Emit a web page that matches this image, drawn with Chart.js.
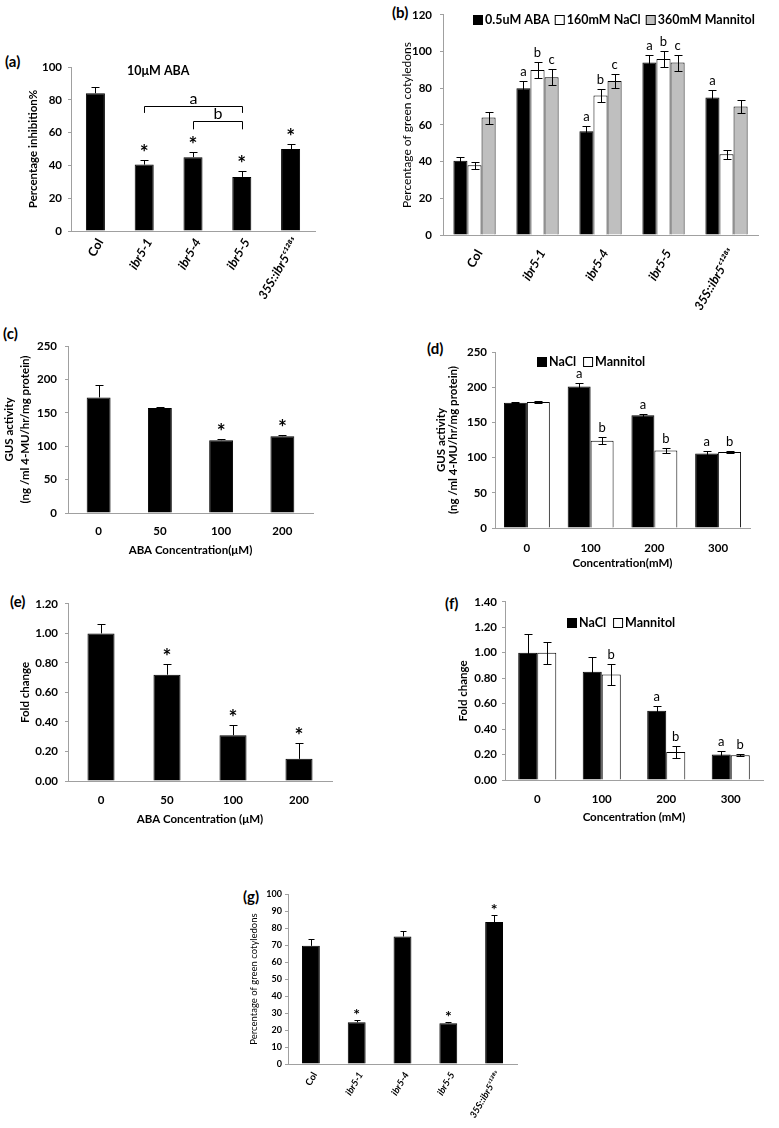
<!DOCTYPE html>
<html>
<head>
<meta charset="utf-8">
<script src="https://cdn.jsdelivr.net/npm/chart.js@4.4.1/dist/chart.umd.min.js"></script>
<style>
  body { margin: 0; width: 779px; height: 1128px; position: relative; overflow: hidden; background: #fff; font-family: Lato, "Open Sans", sans-serif; }
  .tag { position: absolute; font: bold 15px Lato, sans-serif; line-height: 18px; color: #000; }
</style>
</head>
<body>
<div class="tag" style="left:5px;top:52px">(a)</div>
<div class="tag" style="left:392px;top:3px">(b)</div>
<div class="tag" style="left:3px;top:324px">(c)</div>
<div class="tag" style="left:427px;top:339px">(d)</div>
<div class="tag" style="left:10px;top:592px">(e)</div>
<div class="tag" style="left:445px;top:594px">(f)</div>
<div class="tag" style="left:243px;top:887px">(g)</div>
<script>
// genotypes (a, b, g)
const genotypes = ['Col', 'ibr5-1', 'ibr5-4', 'ibr5-5', '35S::ibr5ᶜ¹²⁸ˢ'];

// (a) 10uM ABA, percentage inhibition
const inhibition = [84, 40.5, 45, 33, 50];
const inhibitionErr = [4, 2.5, 3, 3.5, 3];

// (b) percentage of green cotyledons
const seriesB = ['0.5uM ABA', '160mM NaCl', '360mM Mannitol'];
const greenABA = [40.5, 80, 56.5, 94, 75];
const greenABAErr = [2, 4, 2.7, 4.3, 3.8];
const greenNaCl = [38, 90, 76, 96, 44];
const greenNaClErr = [2, 4.4, 3.7, 4.3, 2.3];
const greenMannitol = [64, 86, 84, 94, 70];
const greenMannitolErr = [3.3, 4.3, 4, 4.4, 3.6];

// (c) GUS activity vs ABA
const abaConc = ['0', '50', '100', '200'];
const gusABA = [173, 157, 109, 115];
const gusABAErr = [19, 1.5, 1.5, 2];

// (d) GUS activity vs NaCl / Mannitol
const saltConc = ['0', '100', '200', '300'];
const osmoSeries = ['NaCl', 'Mannitol'];
const gusNaCl = [178, 201, 160, 106];
const gusNaClErr = [0.5, 5, 2.5, 3.5];
const gusMannitol = [179, 124, 110, 108];
const gusMannitolErr = [1, 5, 3, 1.5];

// (e) fold change vs ABA
const foldABA = [1.00, 0.72, 0.31, 0.15];
const foldABAErr = [0.065, 0.07, 0.07, 0.11];

// (f) fold change vs NaCl / Mannitol
const foldNaCl = [1.00, 0.85, 0.545, 0.20];
const foldNaClErr = [0.15, 0.12, 0.04, 0.03];
const foldMannitol = [1.00, 0.83, 0.22, 0.195];
const foldMannitolErr = [0.085, 0.085, 0.045, 0.01];

// (g) percentage of green cotyledons
const greenG = [69.5, 24.5, 75, 24, 83.5];
const greenGErr = [3.8, 1.3, 3.5, 1, 4];

const AXIS = '#a0a0a0';
Chart.defaults.font.family = 'Lato, "Open Sans", sans-serif';
Chart.defaults.color = '#000';

// error bars, letters, brackets, legend
const extras = {
  id: 'extras',
  afterDatasetsDraw(chart, args, o) {
    const ctx = chart.ctx, ys = chart.scales.y, xs = chart.scales.x;
    const cap = o.cap || 4;
    ctx.save();
    ctx.strokeStyle = '#000';
    ctx.lineWidth = 1;
    chart.data.datasets.forEach((ds, di) => {
      chart.getDatasetMeta(di).data.forEach((bar, i) => {
        const v = ds.data[i], e = ds.errors[i];
        const x = Math.round(bar.x) + 0.5;
        const top = Math.round(ys.getPixelForValue(v + e)) + 0.5;
        const bot = o.both ? Math.round(ys.getPixelForValue(v - e)) + 0.5 : bar.y;
        ctx.beginPath();
        ctx.moveTo(x, top); ctx.lineTo(x, bot);
        ctx.moveTo(x - cap, top); ctx.lineTo(x + cap, top);
        if (o.both) { ctx.moveTo(x - cap, bot); ctx.lineTo(x + cap, bot); }
        ctx.stroke();
      });
    });

    ctx.fillStyle = '#000';
    ctx.textAlign = 'center';
    ctx.textBaseline = 'alphabetic';
    (o.notes || []).forEach(([di, i, t]) => {
      const ds = chart.data.datasets[di];
      const bar = chart.getDatasetMeta(di).data[i];
      const top = ys.getPixelForValue(ds.data[i] + ds.errors[i]);
      const star = t === '*';
      ctx.font = star ? o.starFont : o.letterFont;
      ctx.fillText(t, bar.x, top - (star ? o.starGap : o.letterGap));
    });

    (o.brackets || []).forEach(b => {
      const x1 = Math.round(xs.getPixelForValue(b.from)) + 0.5;
      const x2 = Math.round(xs.getPixelForValue(b.to)) + 0.5;
      const yl = Math.round(ys.getPixelForValue(b.level)) + 0.5;
      const yd = ys.getPixelForValue(b.level - b.drop);
      ctx.beginPath();
      ctx.moveTo(x1, yd); ctx.lineTo(x1, yl); ctx.lineTo(x2, yl); ctx.lineTo(x2, yd);
      ctx.stroke();
      ctx.font = o.bracketFont;
      ctx.fillText(b.label, (x1 + x2) / 2, yl - 3);
    });

    if (o.caption) {
      ctx.font = o.caption.font;
      ctx.textAlign = 'left';
      ctx.textBaseline = 'middle';
      ctx.fillText(o.caption.text, o.caption.x, o.caption.y);
    }

    if (o.legend) {
      let x = o.legend.x;
      const y = o.legend.y;
      ctx.font = o.legend.font;
      ctx.textAlign = 'left';
      ctx.textBaseline = 'middle';
      chart.data.datasets.forEach(ds => {
        ctx.fillStyle = ds.backgroundColor;
        ctx.fillRect(x + 0.5, Math.round(y - 5) + 0.5, 9, 9);
        ctx.strokeRect(x + 0.5, Math.round(y - 5) + 0.5, 9, 9);
        x += 12;
        ctx.fillStyle = '#000';
        ctx.fillText(ds.label, x, y);
        x += ctx.measureText(ds.label).width + o.legend.gap;
      });
    }
    ctx.restore();
  }
};

function bars(label, data, errors, color) {
  return { label, data, errors, backgroundColor: color, borderColor: '#000', borderWidth: 1 };
}

function panel(s) {
  const c = document.createElement('canvas');
  const b = s.box, a = s.area;
  c.width = b.w; c.height = b.h;
  c.style.cssText = `position:absolute;left:${b.l}px;top:${b.t}px;width:${b.w}px;height:${b.h}px`;
  document.body.appendChild(c);
  const yW = a.l - b.l, xH = b.t + b.h - a.b;
  const rot = s.rotate ? 60 : 0;
  return new Chart(c, {
    type: 'bar',
    data: { labels: s.labels, datasets: s.datasets },
    options: {
      responsive: false,
      animation: false,
      layout: { padding: { top: a.t - b.t, right: b.l + b.w - a.r, left: 0, bottom: 0 } },
      datasets: { bar: { categoryPercentage: s.cat, barPercentage: s.bar } },
      scales: {
        x: {
          grid: { display: false, drawTicks: false },
          border: { display: true, color: AXIS },
          ticks: {
            autoSkip: false, minRotation: rot, maxRotation: rot, padding: s.xPad,
            labelOffset: s.xShift || 0,
            font: ctx => ({ size: s.xFont, weight: 'bold', style: (s.rotate && ctx.index > 0) ? 'italic' : 'normal' })
          },
          title: s.xTitle ? {
            display: true, text: s.xTitle,
            font: { size: 11.5, weight: 'bold' },
            padding: { top: 0, bottom: s.xTitlePad }
          } : { display: false },
          afterFit: sc => { sc.height = xH; }
        },
        y: {
          min: s.y.min, max: s.y.max,
          grid: { display: true, drawOnChartArea: false, drawTicks: true, tickLength: 3, color: AXIS },
          border: { display: true, color: AXIS },
          ticks: {
            stepSize: s.y.step, padding: s.y.pad,
            font: { size: s.y.font, weight: 'bold' },
            callback: v => s.y.dec ? v.toFixed(s.y.dec) : v
          },
          title: {
            display: true, text: s.yTitle.text,
            font: s.yTitle.font,
            padding: { top: s.yTitle.pad, bottom: 0 }
          },
          afterFit: sc => { sc.width = yW; }
        }
      },
      plugins: {
        legend: { display: false },
        tooltip: { enabled: false },
        extras: s.extras
      }
    },
    plugins: [extras]
  });
}

const starA = { starFont: 'bold 21px Lato', starGap: 0, letterFont: '13px Lato', letterGap: 5 };

// (a)
panel({
  box: { l: 0, t: 40, w: 390, h: 280 }, area: { l: 71, t: 67, r: 315, b: 231 },
  labels: genotypes, rotate: true, xFont: 12.5, xPad: 5, xShift: 5, cat: 1, bar: 0.39,
  datasets: [bars('10μM ABA', inhibition, inhibitionErr, '#000')],
  y: { min: 0, max: 100, step: 20, pad: 6, font: 11.5 },
  yTitle: { text: 'Percentage inhibition%', font: { size: 11.5, weight: 'bold' }, pad: 26 },
  extras: Object.assign({}, starA, {
    cap: 4,
    notes: [[0, 1, '*'], [0, 2, '*'], [0, 3, '*'], [0, 4, '*']],
    bracketFont: '16px Lato',
    brackets: [
      { from: 1, to: 3, level: 76, drop: 4, label: 'a' },
      { from: 2, to: 3, level: 67, drop: 5, label: 'b' }
    ],
    caption: { text: '10μM ABA', x: 127, y: 31, font: 'bold 12.5px Lato' }
  })
});

// (b)
panel({
  box: { l: 390, t: 0, w: 389, h: 320 }, area: { l: 443, t: 10, r: 758, b: 235 },
  labels: genotypes, rotate: true, xFont: 12.5, xPad: 12, xShift: 5, cat: 0.67, bar: 1,
  datasets: [
    bars(seriesB[0], greenABA, greenABAErr, '#000'),
    bars(seriesB[1], greenNaCl, greenNaClErr, '#fff'),
    bars(seriesB[2], greenMannitol, greenMannitolErr, '#bfbfbf')
  ],
  y: { min: 0, max: 120, step: 20, pad: 8, font: 11.5 },
  yTitle: { text: 'Percentage of green cotyledons', font: { size: 12 }, pad: 10 },
  extras: Object.assign({}, starA, {
    both: true, cap: 4,
    notes: [[0, 1, 'a'], [1, 1, 'b'], [2, 1, 'c'], [0, 2, 'a'], [1, 2, 'b'], [2, 2, 'c'],
            [0, 3, 'a'], [1, 3, 'b'], [2, 3, 'c'], [0, 4, 'a']],
    legend: { x: 83, y: 20, font: 'bold 12.5px Lato', gap: 5 }
  })
});

// (c)
panel({
  box: { l: 0, t: 320, w: 390, h: 270 }, area: { l: 68, t: 346, r: 313, b: 513 },
  labels: abaConc, xFont: 11.5, xPad: 11, cat: 1, bar: 0.39,
  xTitle: 'ABA Concentration(μM)', xTitlePad: 33,
  datasets: [bars('GUS', gusABA, gusABAErr, '#000')],
  y: { min: 0, max: 250, step: 50, pad: 8, font: 11.5 },
  yTitle: { text: ['GUS activity', '(ng /ml 4-MU/hr/mg protein)'], font: { size: 11.5, weight: 'bold', lineHeight: 1.4 }, pad: 1 },
  extras: Object.assign({}, starA, { cap: 4, notes: [[0, 2, '*'], [0, 3, '*']] })
});

// (d)
panel({
  box: { l: 390, t: 320, w: 389, h: 270 }, area: { l: 495, t: 352, r: 750, b: 528 },
  labels: saltConc, xFont: 11.5, xPad: 13, cat: 0.72, bar: 1,
  xTitle: 'Concentration(mM)', xTitlePad: 20,
  datasets: [
    bars(osmoSeries[0], gusNaCl, gusNaClErr, '#000'),
    bars(osmoSeries[1], gusMannitol, gusMannitolErr, '#fff')
  ],
  y: { min: 0, max: 250, step: 50, pad: 5, font: 11.5 },
  yTitle: { text: ['GUS activity', '(ng /ml 4-MU/hr/mg protein)'], font: { size: 11.5, weight: 'bold', lineHeight: 1.0 }, pad: 46 },
  extras: Object.assign({}, starA, {
    both: true, cap: 4,
    notes: [[0, 1, 'a'], [1, 1, 'b'], [0, 2, 'a'], [1, 2, 'b'], [0, 3, 'a'], [1, 3, 'b']],
    legend: { x: 147, y: 42, font: 'bold 12.5px Lato', gap: 7 }
  })
});

// (e)
panel({
  box: { l: 0, t: 590, w: 390, h: 250 }, area: { l: 68, t: 602, r: 332, b: 781 },
  labels: abaConc, xFont: 11.5, xPad: 12, cat: 1, bar: 0.41,
  xTitle: 'ABA Concentration (μM)', xTitlePad: 14,
  datasets: [bars('Fold', foldABA, foldABAErr, '#000')],
  y: { min: 0, max: 1.2, step: 0.2, dec: 2, pad: 7, font: 11.5 },
  yTitle: { text: 'Fold change', font: { size: 11.5, weight: 'bold' }, pad: 18 },
  extras: Object.assign({}, starA, { cap: 4, notes: [[0, 1, '*'], [0, 2, '*'], [0, 3, '*']] })
});

// (f)
panel({
  box: { l: 390, t: 590, w: 389, h: 250 }, area: { l: 505, t: 600, r: 763, b: 780 },
  labels: saltConc, xFont: 11.5, xPad: 12, cat: 0.59, bar: 1,
  xTitle: 'Concentration (mM)', xTitlePad: 16,
  datasets: [
    bars(osmoSeries[0], foldNaCl, foldNaClErr, '#000'),
    bars(osmoSeries[1], foldMannitol, foldMannitolErr, '#fff')
  ],
  y: { min: 0, max: 1.4, step: 0.2, dec: 2, pad: 5, font: 11.5 },
  yTitle: { text: 'Fold change', font: { size: 11.5, weight: 'bold' }, pad: 66 },
  extras: Object.assign({}, starA, {
    both: true, cap: 4,
    notes: [[1, 1, 'b'], [0, 2, 'a'], [1, 2, 'b'], [0, 3, 'a'], [1, 3, 'b']],
    legend: { x: 177, y: 33, font: 'bold 12.5px Lato', gap: 7 }
  })
});

// (g)
panel({
  box: { l: 200, t: 840, w: 360, h: 288 }, area: { l: 288, t: 894, r: 517, b: 1064 },
  labels: genotypes, rotate: true, xFont: 9.5, xPad: 6, xShift: 4, cat: 1, bar: 0.39,
  datasets: [bars('Green', greenG, greenGErr, '#000')],
  y: { min: 0, max: 100, step: 10, pad: 3, font: 9 },
  yTitle: { text: 'Percentage of green cotyledons', font: { size: 9.5 }, pad: 48 },
  extras: { cap: 3, starFont: 'bold 16px Lato', starGap: 0, letterFont: '11px Lato', letterGap: 4,
            notes: [[0, 1, '*'], [0, 3, '*'], [0, 4, '*']] }
});
</script>
</body>
</html>
